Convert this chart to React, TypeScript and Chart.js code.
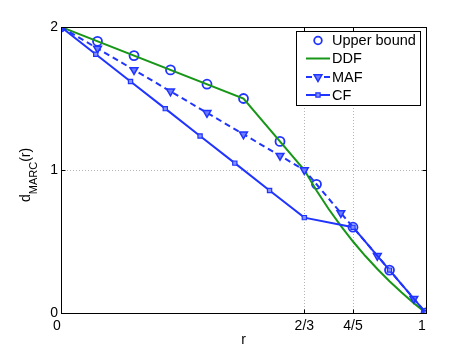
import React, { useEffect, useRef } from "react";
import { Chart, registerables } from "chart.js";

Chart.register(...registerables);

// ---- data ----
const R_UPPER = [0, 0.1, 0.2, 0.3, 0.4, 0.5, 0.6, 0.7, 0.8, 0.9, 1];
const D_UPPER = [2, 1.9, 1.8, 1.7, 1.6, 1.5, 1.2, 0.9, 0.6, 0.3, 0];

const R_DDF = [0, 0.5, 0.6667, 0.7, 0.7333, 0.7667, 0.8, 0.8333, 0.8667, 0.9, 0.9333, 0.9667, 1];
const D_DDF = [2, 1.5, 1.0, 0.857, 0.727, 0.609, 0.5, 0.4, 0.308, 0.222, 0.143, 0.069, 0];

const R_MAF = [0, 0.1, 0.2, 0.3, 0.4, 0.5, 0.6, 0.6667, 0.7667, 0.8667, 0.9667, 1];
const D_MAF = [2, 1.85, 1.7, 1.55, 1.4, 1.25, 1.1, 1.0, 0.7, 0.4, 0.1, 0];

const R_CF = [0, 0.0952, 0.1905, 0.2857, 0.381, 0.4762, 0.5714, 0.6667, 0.8, 0.9, 1];
const D_CF = [2, 1.81, 1.619, 1.429, 1.238, 1.048, 0.857, 0.667, 0.6, 0.3, 0];

const X_TICKS = [0, 2 / 3, 0.8, 1];
const X_TICK_LABELS = ["0", "2/3", "4/5", "1"];
const Y_TICKS = [0, 1, 2];
const Y_TICK_LABELS = ["0", "1", "2"];
const SERIES_NAMES = ["Upper bound", "DDF", "MAF", "CF"];

const BLUE = "rgb(32,52,255)";
const GREEN = "rgb(24,150,24)";
const FONT = "'Liberation Sans', Arial, sans-serif";

const toXY = (xs: number[], ys: number[]) => xs.map((x, i) => ({ x, y: ys[i] }));

function drawPointLocal(ctx: CanvasRenderingContext2D, style: string, r: number, rot: number, x: number, y: number, fill: string) {
  ctx.beginPath();
  if (style === "circle") {
    ctx.arc(x, y, r, 0, Math.PI * 2);
  } else if (style === "triangle") {
    const a = ((rot - 90) * Math.PI) / 180;
    for (let k = 0; k < 3; k++) {
      const ang = a + (k * 2 * Math.PI) / 3;
      const px = x + Math.cos(ang) * r;
      const py = y + Math.sin(ang) * r;
      if (k === 0) ctx.moveTo(px, py);
      else ctx.lineTo(px, py);
    }
    ctx.closePath();
  } else {
    const s = Math.SQRT1_2 * r;
    ctx.rect(x - s, y - s, 2 * s, 2 * s);
  }
  if (fill && fill !== "transparent") ctx.fill();
  ctx.stroke();
}

const framePlugin = {
  id: "frame",
  beforeDatasetsDraw(chart: any) {
    const { ctx, chartArea: a, scales } = chart;
    ctx.save();
    ctx.strokeStyle = "#b4b4b4";
    ctx.lineWidth = 1;
    ctx.setLineDash([1, 2]);
    X_TICKS.forEach((v) => {
      const x = Math.round(scales.x.getPixelForValue(v)) + 0.5;
      ctx.beginPath();
      ctx.moveTo(x, a.top);
      ctx.lineTo(x, a.bottom);
      ctx.stroke();
    });
    Y_TICKS.forEach((v) => {
      const y = Math.round(scales.y.getPixelForValue(v)) + 0.5;
      ctx.beginPath();
      ctx.moveTo(a.left, y);
      ctx.lineTo(a.right, y);
      ctx.stroke();
    });
    ctx.restore();
  },
  afterDatasetsDraw(chart: any) {
    const { ctx, chartArea: a, scales } = chart;
    ctx.save();
    ctx.strokeStyle = "#000";
    ctx.lineWidth = 1;
    ctx.setLineDash([]);
    const L = Math.round(a.left) + 0.5;
    const R = Math.round(a.right) + 0.5;
    const T = Math.round(a.top) + 0.5;
    const B = Math.round(a.bottom) + 0.5;
    ctx.strokeRect(L, T, R - L, B - T);
    const tl = 4;
    X_TICKS.forEach((v) => {
      const x = Math.round(scales.x.getPixelForValue(v)) + 0.5;
      ctx.beginPath();
      ctx.moveTo(x, B);
      ctx.lineTo(x, B - tl);
      ctx.moveTo(x, T);
      ctx.lineTo(x, T + tl);
      ctx.stroke();
    });
    Y_TICKS.forEach((v) => {
      const y = Math.round(scales.y.getPixelForValue(v)) + 0.5;
      ctx.beginPath();
      ctx.moveTo(L, y);
      ctx.lineTo(L + tl, y);
      ctx.moveTo(R, y);
      ctx.lineTo(R - tl, y);
      ctx.stroke();
    });
    ctx.restore();
  },
  afterDraw(chart: any) {
    const { ctx, chartArea: a, scales } = chart;
    ctx.save();
    ctx.fillStyle = "#000";
    ctx.font = `14px ${FONT}`;

    // tick labels
    ctx.textAlign = "center";
    ctx.textBaseline = "alphabetic";
    X_TICKS.forEach((v, i) => {
      const edge = i === 0 || i === X_TICKS.length - 1 ? -4 : 0;
      ctx.fillText(X_TICK_LABELS[i], scales.x.getPixelForValue(v) + edge, 330);
    });
    ctx.textAlign = "right";
    ctx.textBaseline = "middle";
    Y_TICKS.forEach((v, i) => {
      ctx.fillText(Y_TICK_LABELS[i], a.left - 3, scales.y.getPixelForValue(v) + 0.5);
    });

    // axis titles
    ctx.textAlign = "center";
    ctx.textBaseline = "alphabetic";
    ctx.fillText("r", (a.left + a.right) / 2, 344);

    ctx.save();
    ctx.translate(29.5, 202);
    ctx.rotate(-Math.PI / 2);
    ctx.textAlign = "left";
    ctx.font = `14px ${FONT}`;
    ctx.fillText("d", 0, 0);
    let off = ctx.measureText("d").width;
    ctx.font = `11px ${FONT}`;
    ctx.fillText("MARC", off, 7.5);
    off += ctx.measureText("MARC").width;
    ctx.font = `14px ${FONT}`;
    ctx.fillText("(r)", off, 0);
    ctx.restore();

    // legend
    const bx = 296.5, by = 31.5, bw = 124, bh = 74;
    ctx.fillStyle = "#fff";
    ctx.fillRect(bx, by, bw, bh);
    ctx.strokeStyle = "#000";
    ctx.lineWidth = 1;
    ctx.strokeRect(bx, by, bw, bh);
    const rowY = [40.5, 58.5, 77, 95];
    const x0 = 306, x1 = 330, xm = 318;
    chart.data.datasets.forEach((ds: any, i: number) => {
      const y = rowY[i];
      ctx.save();
      if (ds.showLine !== false) {
        ctx.strokeStyle = ds.borderColor;
        ctx.lineWidth = ds.borderWidth;
        ctx.beginPath();
        if (ds.borderDash) {
          ctx.moveTo(x0, y);
          ctx.lineTo(x0 + 6, y);
          ctx.moveTo(x1 - 6, y);
          ctx.lineTo(x1, y);
        } else {
          ctx.moveTo(x0, y);
          ctx.lineTo(x1, y);
        }
        ctx.stroke();
      }
      ctx.restore();
      if (ds.pointRadius > 0) {
        ctx.save();
        ctx.fillStyle = ds.pointBackgroundColor;
        ctx.strokeStyle = ds.pointBorderColor;
        ctx.lineWidth = ds.pointBorderWidth;
        drawPointLocal(ctx, ds.pointStyle, ds.pointRadius * (i === 0 ? 0.85 : 1), ds.pointRotation || 0, xm, y, ds.pointBackgroundColor);
        ctx.restore();
      }
      ctx.fillStyle = "#000";
      ctx.font = `14.5px ${FONT}`;
      ctx.textAlign = "left";
      ctx.textBaseline = "middle";
      ctx.fillText(SERIES_NAMES[i], 332, y + 0.5);
    });
    ctx.restore();
  },
};

export default function App() {
  const ref = useRef<HTMLCanvasElement | null>(null);
  useEffect(() => {
    document.body.style.margin = "0";
    const canvas = ref.current!;
    const chart = new Chart(canvas, {
      type: "line",
      data: {
        datasets: [
          {
            label: SERIES_NAMES[0],
            data: toXY(R_UPPER, D_UPPER),
            showLine: false,
            pointStyle: "circle",
            pointRadius: 4.5,
            pointBorderWidth: 1.8,
            pointBorderColor: BLUE,
            pointBackgroundColor: "transparent",
            borderColor: BLUE,
            order: 4,
          } as any,
          {
            label: SERIES_NAMES[1],
            data: toXY(R_DDF, D_DDF),
            borderColor: GREEN,
            borderWidth: 2,
            pointRadius: 0,
            tension: 0,
            order: 3,
          },
          {
            label: SERIES_NAMES[2],
            data: toXY(R_MAF, D_MAF),
            borderColor: BLUE,
            borderWidth: 2,
            borderDash: [6, 4],
            pointStyle: "triangle",
            pointRotation: 180,
            pointRadius: 4.5,
            pointBorderWidth: 1.5,
            pointBorderColor: BLUE,
            pointBackgroundColor: "rgb(110,125,255)",
            tension: 0,
            order: 2,
          } as any,
          {
            label: SERIES_NAMES[3],
            data: toXY(R_CF, D_CF),
            borderColor: BLUE,
            borderWidth: 2,
            pointStyle: "rect",
            pointRadius: 3,
            pointBorderWidth: 1.2,
            pointBorderColor: BLUE,
            pointBackgroundColor: "rgb(130,145,255)",
            tension: 0,
            order: 1,
          } as any,
        ],
      },
      options: {
        responsive: false,
        animation: false,
        devicePixelRatio: 1,
        layout: { padding: { top: 27, right: 45, left: 0, bottom: 0 } },
        plugins: { legend: { display: false }, tooltip: { enabled: false }, title: { display: false } },
        scales: {
          x: {
            type: "linear",
            min: 0,
            max: 1,
            grid: { display: false, drawTicks: false },
            border: { display: false },
            afterBuildTicks: (scale: any) => {
              scale.ticks = X_TICKS.map((v) => ({ value: v }));
            },
            afterFit: (scale: any) => {
              scale.height = 40;
            },
            ticks: { display: false },
          },
          y: {
            type: "linear",
            min: 0,
            max: 2,
            grid: { display: false, drawTicks: false },
            border: { display: false },
            afterBuildTicks: (scale: any) => {
              scale.ticks = Y_TICKS.map((v) => ({ value: v }));
            },
            afterFit: (scale: any) => {
              scale.width = 61;
            },
            ticks: { display: false },
          },
        },
      },
      plugins: [framePlugin],
    });
    return () => chart.destroy();
  }, []);
  return (
    <div style={{ width: 471, height: 353 }}>
      <canvas ref={ref} width={471} height={353} />
    </div>
  );
}
